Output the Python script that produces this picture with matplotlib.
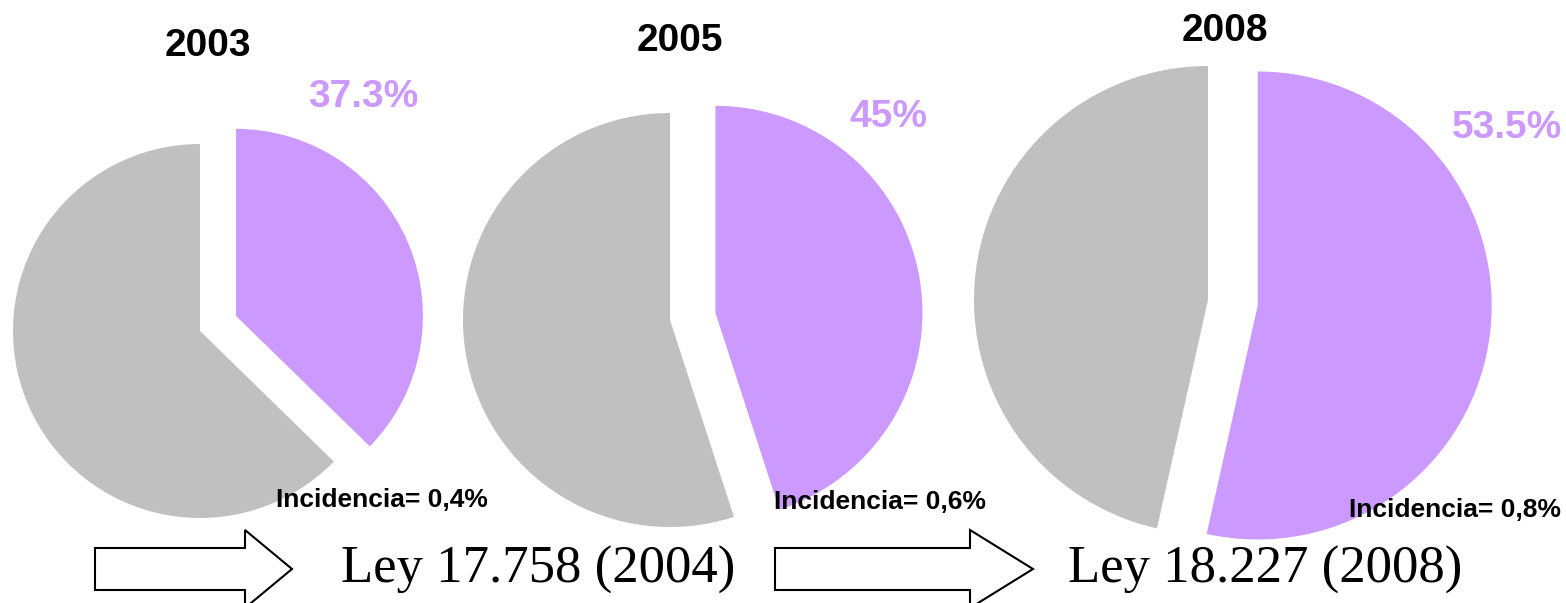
import matplotlib
matplotlib.use("Agg")
import matplotlib.pyplot as plt
from matplotlib.patches import FancyArrow

# ---- data ----
years = ["2003", "2005", "2008"]
share_purple = [37.3, 45.0, 53.5]
pct_labels = ["37.3%", "45%", "53.5%"]
incidencia = ["Incidencia= 0,4%", "Incidencia= 0,6%", "Incidencia= 0,8%"]
leyes = ["Ley 17.758 (2004)", "Ley 18.227 (2008)"]

GRAY = "#C0C0C0"
PURPLE = "#CC99FF"

W, H = 1566, 603
fig = plt.figure(figsize=(W / 100, H / 100), dpi=100)
ax = fig.add_axes([0, 0, 1, 1])

def Y(yp):
    return H - yp

# layout (pixels)
centers = [(200, 331), (670, 320), (1208, 300)]
radii = [187, 207, 234]
explode_px = [39, 46, 50]
title_pos = [(208, 46), (680, 41), (1225, 31)]
pct_pos = [(363, 97), (888, 117), (1507, 128)]
inc_pos = [(382, 500), (880, 502), (1455, 510)]

for i in range(3):
    cx, cy = centers[i]
    vals = [share_purple[i], 100 - share_purple[i]]
    ax.pie(vals, colors=[PURPLE, GRAY], startangle=90, counterclock=False,
           center=(cx, Y(cy)), radius=radii[i], explode=[explode_px[i], 0],
           wedgeprops=dict(linewidth=0))
    ax.text(title_pos[i][0], Y(title_pos[i][1]), years[i], ha="center", va="center",
            fontsize=28, fontweight="bold", family="Liberation Sans", color="black")
    ax.text(pct_pos[i][0], Y(pct_pos[i][1]), pct_labels[i], ha="center", va="center",
            fontsize=28, fontweight="bold", family="Liberation Sans", color=PURPLE)
    ax.text(inc_pos[i][0], Y(inc_pos[i][1]), incidencia[i], ha="center", va="center",
            fontsize=19, fontweight="bold", family="Liberation Sans", color="black")

# arrows
arrows = [(95, 292, 245), (775, 1033, 970)]
for x0, x1, xh in arrows:
    ax.add_patch(FancyArrow(x0, Y(569), x1 - x0, 0, width=42, head_width=78,
                            head_length=x1 - xh, length_includes_head=True,
                            facecolor="white", edgecolor="black", linewidth=1.5))

ley_pos = [(538, 570), (1265, 570)]
for (x, y), t in zip(ley_pos, leyes):
    ax.text(x, Y(y), t, ha="center", va="center", fontsize=38,
            family="Liberation Serif", color="black")

ax.set_xlim(0, W)
ax.set_ylim(0, H)
ax.set_aspect("auto")
ax.axis("off")
fig.savefig("out.png", dpi=100, facecolor="white")
